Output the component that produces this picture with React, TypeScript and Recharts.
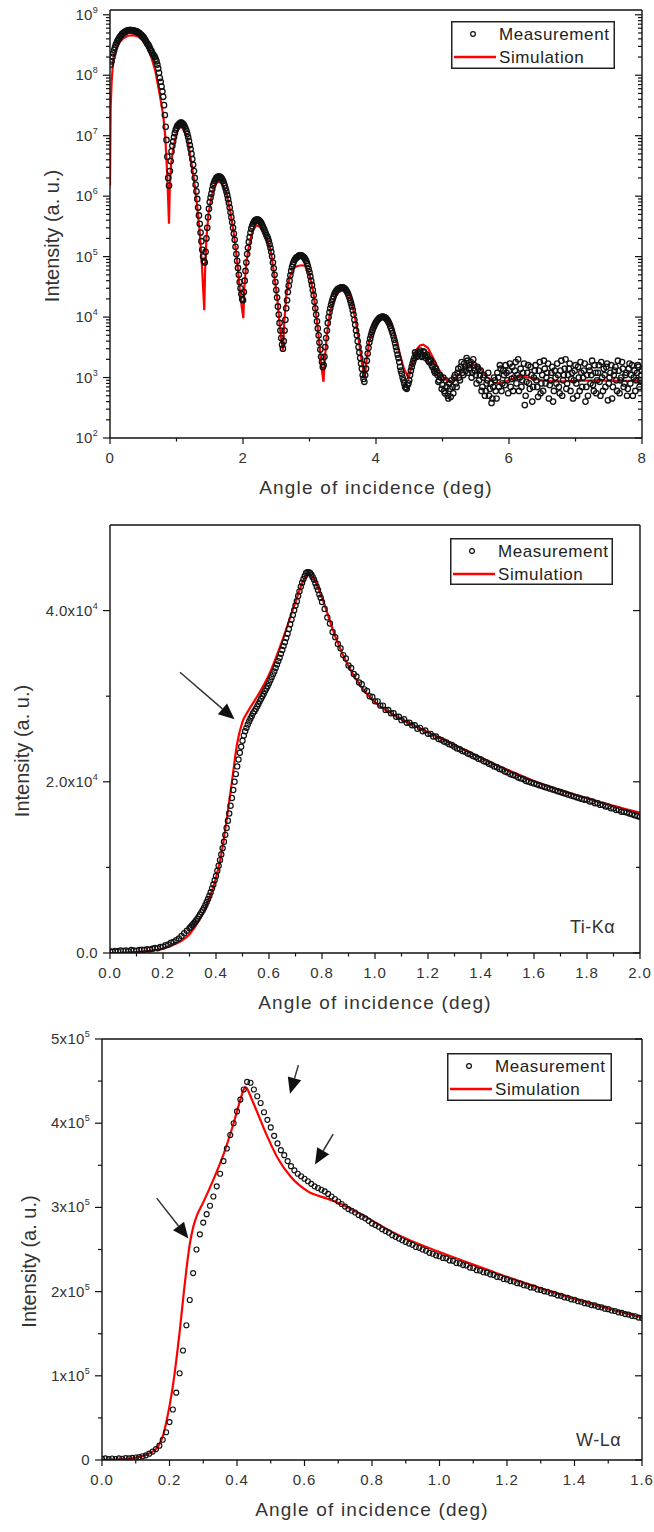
import React from 'react';
import { ComposedChart, Line, Scatter, XAxis, YAxis, Legend, ReferenceLine } from 'recharts';

type Pair = [number, number];

const FONT = '"Liberation Sans", Arial, Helvetica, sans-serif';
const INK = '#333';

// ---------- Panel 1: X-ray reflectivity (log scale) ----------
const xrrMeasured: Pair[] = [
  [0.025,1.7e8],[0.05,2.3e8],[0.075,2.9e8],[0.1,3.4e8],[0.125,3.9e8],[0.15,4.3e8],[0.175,4.7e8],[0.2,5.0e8],[0.225,5.2e8],[0.25,5.4e8],
  [0.275,5.5e8],[0.3,5.6e8],[0.325,5.6e8],[0.35,5.5e8],[0.375,5.4e8],[0.4,5.3e8],[0.425,5.1e8],[0.45,4.9e8],[0.475,4.6e8],[0.5,4.3e8],
  [0.525,3.9e8],[0.55,3.5e8],[0.575,3.2e8],[0.6,2.8e8],[0.625,2.5e8],[0.65,2.2e8],[0.675,2.0e8],[0.7,1.7e8],[0.725,1.3e8],[0.75,9e7],
  [0.775,6.5e7],[0.8,4.4e7],[0.825,2.2e7],[0.85,8.5e6],[0.875,2.0e6],[0.9,2.6e6],[0.925,5.5e6],[0.95,8e6],[0.975,1.1e7],[1.0,1.35e7],
  [1.025,1.5e7],[1.05,1.6e7],[1.075,1.65e7],[1.1,1.55e7],[1.125,1.4e7],[1.15,1.2e7],[1.175,9.5e6],[1.2,7e6],[1.225,5e6],[1.25,3.3e6],
  [1.275,2e6],[1.3,1.2e6],[1.325,6.5e5],[1.35,3.5e5],[1.375,1.8e5],[1.4,1.0e5],[1.425,8e4],[1.45,2e5],[1.475,4.5e5],[1.5,8e5],
  [1.525,1.1e6],[1.55,1.5e6],[1.575,1.8e6],[1.6,2.0e6],[1.625,2.1e6],[1.65,2.1e6],[1.675,2.0e6],[1.7,1.8e6],[1.725,1.5e6],[1.75,1.2e6],
  [1.775,9e5],[1.8,6.5e5],[1.825,4.5e5],[1.85,3e5],[1.875,1.9e5],[1.9,1.1e5],[1.925,6.5e4],[1.95,3.8e4],[1.975,2.4e4],[2.0,1.9e4],
  [2.025,4e4],[2.05,8e4],[2.075,1.4e5],[2.1,2.1e5],[2.125,2.9e5],[2.15,3.5e5],[2.175,3.9e5],[2.2,4.1e5],[2.225,4.1e5],[2.25,3.9e5],
  [2.275,3.6e5],[2.3,3.1e5],[2.325,2.7e5],[2.35,2.3e5],[2.375,2.0e5],[2.4,1.6e5],[2.425,1.2e5],[2.45,8e4],[2.475,5e4],[2.5,2.8e4],
  [2.525,1.5e4],[2.55,8e3],[2.575,4.5e3],[2.6,3e3],[2.625,6e3],[2.65,1.4e4],[2.675,2.6e4],[2.7,4e4],[2.725,5.8e4],[2.75,7.5e4],
  [2.775,8.8e4],[2.8,9.6e4],[2.825,1.0e5],[2.85,1.05e5],[2.875,1.05e5],[2.9,1.0e5],[2.925,9.5e4],[2.95,8.5e4],[2.975,7e4],[3.0,5.5e4],
  [3.025,4e4],[3.05,2.8e4],[3.075,1.8e4],[3.1,1.1e4],[3.125,6.5e3],[3.15,3.8e3],[3.175,2.2e3],[3.2,1.5e3],[3.225,2.2e3],[3.25,4.5e3],
  [3.275,8e3],[3.3,1.2e4],[3.325,1.6e4],[3.35,2e4],[3.375,2.4e4],[3.4,2.7e4],[3.425,2.9e4],[3.45,3e4],[3.475,3.1e4],[3.5,3.1e4],
  [3.525,3e4],[3.55,2.8e4],[3.575,2.5e4],[3.6,2.1e4],[3.625,1.7e4],[3.65,1.3e4],[3.675,9e3],[3.7,6e3],[3.725,4e3],[3.75,2.6e3],
  [3.775,1.7e3],[3.8,1.1e3],[3.825,8.5e2],[3.85,1.4e3],[3.875,2.5e3],[3.9,3.8e3],[3.925,5e3],[3.95,6.2e3],[3.975,7.2e3],[4.0,8.2e3],
  [4.025,9e3],[4.05,9.6e3],[4.075,1e4],[4.1,1.02e4],[4.125,1.0e4],[4.15,9.6e3],[4.175,8.8e3],[4.2,7.8e3],[4.225,6.6e3],[4.25,5.4e3],
  [4.275,4.2e3],[4.3,3.2e3],[4.325,2.4e3],[4.35,1.8e3],[4.375,1.3e3],[4.4,1.0e3],[4.425,8e2],[4.45,6.8e2],[4.475,7.5e2],[4.5,9e2],
  [4.525,1.3e3],[4.55,1.7e3],[4.575,2.1e3],[4.6,2.4e3],[4.625,2.3e3],[4.65,2.6e3],[4.675,2.5e3],[4.7,2.3e3],[4.725,2.6e3],[4.75,2.1e3],
  [4.775,2.2e3],[4.8,1.8e3],[4.825,1.9e3],[4.85,1.5e3],[4.875,1.3e3],[4.9,1.4e3],[4.925,1.1e3],[4.95,9e2],[4.975,1.0e3],[5.0,7.5e2],
  [5.025,6e2],[5.05,9e2],[5.075,5e2],[5.1,8e2],[5.125,4.8e2],[5.15,7e2],[5.175,1.0e3],[5.2,8e2],[5.225,1.2e3],[5.25,1.0e3],
  [5.275,1.5e3],[5.3,1.2e3],[5.325,1.7e3],[5.35,1.3e3],[5.375,1.9e3],[5.4,1.4e3],[5.425,1.8e3],[5.45,1.2e3],[5.475,1.6e3],[5.5,1.1e3],
  [5.525,1.5e3],[5.55,9e2],[5.575,1.3e3],[5.6,7e2],[5.625,1.1e3],[5.65,6e2],[5.675,9e2],[5.7,5e2],[5.725,8e2],[5.75,4.5e2],
  [5.775,1.0e3],[5.8,6e2],[5.825,1.2e3],[5.85,7e2],[5.875,1.4e3],[5.9,8e2],[5.925,1.1e3],[5.95,1.6e3],[5.975,9e2],[6.0,1.3e3],
  [6.025,7e2],[6.05,1.5e3],[6.075,1.0e3],[6.1,1.8e3],[6.125,1.1e3],[6.15,6e2],[6.175,1.4e3],[6.2,9e2],[6.225,1.7e3],[6.25,5e2],
  [6.275,1.2e3],[6.3,8e2],[6.325,1.5e3],[6.35,4e2],[6.375,1.0e3],[6.4,1.6e3],[6.425,7e2],[6.45,1.3e3],[6.475,5.5e2],[6.5,1.1e3],
  [6.525,1.9e3],[6.55,8e2],[6.575,1.2e3],[6.6,4.5e2],[6.625,9e2],[6.65,1.5e3],[6.675,6e2],[6.7,1.0e3],[6.725,1.7e3],[6.75,7e2],
  [6.775,1.3e3],[6.8,5e2],[6.825,1.1e3],[6.85,2.0e3],[6.875,8e2],[6.9,1.4e3],[6.925,6e2],[6.95,1.2e3],[6.975,9e2],[7.0,1.6e3],
  [7.025,5e2],[7.05,1.0e3],[7.075,1.8e3],[7.1,7e2],[7.125,1.3e3],[7.15,4e2],[7.175,1.1e3],[7.2,1.5e3],[7.225,8e2],[7.25,1.9e3],
  [7.275,6e2],[7.3,1.2e3],[7.325,9e2],[7.35,1.6e3],[7.375,5e2],[7.4,1.0e3],[7.425,1.4e3],[7.45,7e2],[7.475,1.7e3],[7.5,8e2],
  [7.525,1.2e3],[7.55,4.5e2],[7.575,1.1e3],[7.6,1.5e3],[7.625,6e2],[7.65,1.3e3],[7.675,9e2],[7.7,1.8e3],[7.725,7e2],[7.75,1.1e3],
  [7.775,5e2],[7.8,1.4e3],[7.825,8e2],[7.85,1.6e3],[7.875,1.0e3],[7.9,6e2],[7.925,1.2e3],[7.95,1.5e3],[7.975,9e2],[8.0,1.3e3],
  // intermediate scan points
  [0.0125,1.5e8],[0.0375,2.0e8],[0.0625,2.6e8],[0.0875,3.2e8],[0.1125,3.7e8],[0.1375,4.1e8],[0.1625,4.5e8],[0.1875,4.9e8],[0.2125,5.1e8],[0.2375,5.3e8],
  [0.2625,5.5e8],[0.2875,5.6e8],[0.3125,5.6e8],[0.3375,5.5e8],[0.3625,5.5e8],[0.3875,5.3e8],[0.4125,5.2e8],[0.4375,5.0e8],[0.4625,4.7e8],[0.4875,4.4e8],
  [0.5125,4.1e8],[0.5375,3.7e8],[0.5625,3.3e8],[0.5875,3.0e8],[0.6125,2.6e8],[0.6375,2.3e8],[0.6625,2.1e8],[0.6875,1.85e8],[0.7125,1.5e8],[0.7375,1.1e8],
  [0.7625,7.8e7],[0.7875,5.4e7],[0.8125,3.2e7],[0.8375,1.4e7],[0.8625,4.5e6],[0.8875,1.5e6],[0.9125,3.8e6],[0.9375,6.8e6],[0.9625,9.5e6],[0.9875,1.25e7],
  [1.0125,1.45e7],[1.0375,1.55e7],[1.0625,1.65e7],[1.0875,1.6e7],[1.1125,1.5e7],[1.1375,1.3e7],[1.1625,1.08e7],[1.1875,8.2e6],[1.2125,6e6],[1.2375,4.1e6],
  [1.2625,2.6e6],[1.2875,1.55e6],[1.3125,9e5],[1.3375,4.8e5],[1.3625,2.5e5],[1.3875,1.3e5],[1.4125,8.5e4],[1.4375,1.2e5],[1.4625,3e5],[1.4875,6.2e5],
  [1.5125,9.5e5],[1.5375,1.3e6],[1.5625,1.65e6],[1.5875,1.9e6],[1.6125,2.05e6],[1.6375,2.1e6],[1.6625,2.05e6],[1.6875,1.9e6],[1.7125,1.65e6],[1.7375,1.35e6],
  [1.7625,1.05e6],[1.7875,7.7e5],[1.8125,5.4e5],[1.8375,3.7e5],[1.8625,2.4e5],[1.8875,1.45e5],[1.9125,8.5e4],[1.9375,5e4],[1.9625,3e4],[1.9875,2e4],
  [2.0125,2.6e4],[2.0375,5.8e4],[2.0625,1.1e5],[2.0875,1.75e5],[2.1125,2.5e5],[2.1375,3.2e5],[2.1625,3.7e5],[2.1875,4e5],[2.2125,4.1e5],[2.2375,4e5],
  [2.2625,3.75e5],[2.2875,3.35e5],[2.3125,2.9e5],[2.3375,2.5e5],[2.3625,2.15e5],[2.3875,1.8e5],[2.4125,1.4e5],[2.4375,1e5],[2.4625,6.4e4],[2.4875,3.8e4],
  [2.5125,2.1e4],[2.5375,1.1e4],[2.5625,6e3],[2.5875,3.5e3],[2.6125,4e3],[2.6375,9e3],[2.6625,1.9e4],[2.6875,3.3e4],[2.7125,4.9e4],[2.7375,6.7e4],
  [2.7625,8.2e4],[2.7875,9.2e4],[2.8125,9.8e4],[2.8375,1.03e5],[2.8625,1.05e5],[2.8875,1.03e5],[2.9125,9.8e4],[2.9375,9e4],[2.9625,7.8e4],[2.9875,6.2e4],
  [3.0125,4.7e4],[3.0375,3.4e4],[3.0625,2.3e4],[3.0875,1.4e4],[3.1125,8.5e3],[3.1375,5e3],[3.1625,2.9e3],[3.1875,1.8e3],[3.2125,1.6e3],[3.2375,3.2e3],
  [3.2625,6e3],[3.2875,1e4],[3.3125,1.4e4],[3.3375,1.8e4],[3.3625,2.2e4],[3.3875,2.55e4],[3.4125,2.8e4],[3.4375,2.95e4],[3.4625,3.05e4],[3.4875,3.1e4],
  [3.5125,3.05e4],[3.5375,2.9e4],[3.5625,2.65e4],[3.5875,2.3e4],[3.6125,1.9e4],[3.6375,1.5e4],[3.6625,1.1e4],[3.6875,7.5e3],[3.7125,5e3],[3.7375,3.2e3],
  [3.7625,2.1e3],[3.7875,1.4e3],[3.8125,9.5e2],[3.8375,1.1e3],[3.8625,1.9e3],[3.8875,3.1e3],[3.9125,4.4e3],[3.9375,5.6e3],[3.9625,6.7e3],[3.9875,7.7e3],
  [4.0125,8.6e3],[4.0375,9.3e3],[4.0625,9.8e3],[4.0875,1.01e4],[4.1125,1.01e4],[4.1375,9.8e3],[4.1625,9.2e3],[4.1875,8.3e3],[4.2125,7.2e3],[4.2375,6e3],
  [4.2625,4.8e3],[4.2875,3.7e3],[4.3125,2.8e3],[4.3375,2.1e3],[4.3625,1.5e3],[4.3875,1.15e3],[4.4125,9e2],[4.4375,7e2],[4.4625,6.5e2],[4.4875,8e2],
  [4.5125,1.1e3],[4.5375,1.5e3],[4.5625,1.9e3],[4.5875,2.6e3],[4.6125,2.2e3],[4.6375,2.5e3],[4.6625,2.8e3],[4.6875,2.2e3],[4.7125,2.7e3],[4.7375,2.3e3],
  [4.7625,2.4e3],[4.7875,1.9e3],[4.8125,2.0e3],[4.8375,1.6e3],[4.8625,1.7e3],[4.8875,1.2e3],[4.9125,1.25e3],[4.9375,8.5e2],[4.9625,1.1e3],[4.9875,6.5e2],
  [5.0125,1.0e3],[5.0375,5.5e2],[5.0625,7e2],[5.0875,4.5e2],[5.1125,6.5e2],[5.1375,9e2],[5.1625,5.5e2],[5.1875,1.1e3],[5.2125,7e2],[5.2375,1.4e3],
  [5.2625,9e2],[5.2875,1.8e3],[5.3125,1.1e3],[5.3375,1.5e3],[5.3625,2.1e3],[5.3875,1.2e3],[5.4125,1.6e3],[5.4375,1.0e3],[5.4625,2.0e3],[5.4875,1.3e3],
  [5.5125,8e2],[5.5375,1.4e3],[5.5625,1.1e3],[5.5875,6e2],[5.6125,1.0e3],[5.6375,5e2],[5.6625,8e2],[5.6875,1.2e3],[5.7125,6.5e2],[5.7375,3.8e2],
  [5.7625,7e2],[5.7875,9e2],[5.8125,4.5e2],[5.8375,1.0e3],[5.8625,1.6e3],[5.8875,6e2],[5.9125,1.3e3],[5.9375,7.5e2],[5.9625,1.2e3],[5.9875,5.5e2],
  [6.0125,1.7e3],[6.0375,9.5e2],[6.0625,6e2],[6.0875,1.3e3],[6.1125,8e2],[6.1375,2.0e3],[6.1625,1.0e3],[6.1875,7e2],[6.2125,1.2e3],[6.2375,3.5e2],
  [6.2625,8.5e2],[6.2875,1.6e3],[6.3125,6.5e2],[6.3375,1.1e3],[6.3625,7e2],[6.3875,1.3e3],[6.4125,9e2],[6.4375,4.8e2],[6.4625,1.8e3],[6.4875,8e2],
  [6.5125,6e2],[6.5375,1.4e3],[6.5625,1.0e3],[6.5875,1.7e3],[6.6125,7.5e2],[6.6375,1.2e3],[6.6625,4e2],[6.6875,1.3e3],[6.7125,8e2],[6.7375,1.1e3],
  [6.7625,5.5e2],[6.7875,1.9e3],[6.8125,9e2],[6.8375,1.4e3],[6.8625,6.5e2],[6.8875,1.1e3],[6.9125,1.7e3],[6.9375,9.5e2],[6.9625,4.5e2],[6.9875,1.3e3],
  [7.0125,8e2],[7.0375,1.5e3],[7.0625,6e2],[7.0875,1.2e3],[7.1125,1.0e3],[7.1375,1.7e3],[7.1625,7e2],[7.1875,5e2],[7.2125,1.3e3],[7.2375,1.1e3],
  [7.2625,7.5e2],[7.2875,1.6e3],[7.3125,5.5e2],[7.3375,1.2e3],[7.3625,8.5e2],[7.3875,1.8e3],[7.4125,6e2],[7.4375,1.1e3],[7.4625,1.5e3],[7.4875,4.2e2],
  [7.5125,1.0e3],[7.5375,1.6e3],[7.5625,7e2],[7.5875,1.3e3],[7.6125,9e2],[7.6375,1.9e3],[7.6625,5.5e2],[7.6875,1.0e3],[7.7125,1.4e3],[7.7375,8e2],
  [7.7625,1.2e3],[7.7875,6.5e2],[7.8125,1.7e3],[7.8375,1.1e3],[7.8625,5e2],[7.8875,1.3e3],[7.9125,9e2],[7.9375,1.6e3],[7.9625,7e2],[7.9875,1.1e3],
];
const xrrSimulated: Pair[] = [
  [0,1.5e6],[0.01,3e7],[0.025,8e7],[0.05,1.9e8],[0.1,2.9e8],[0.15,3.6e8],[0.2,4.1e8],[0.27,4.5e8],[0.35,4.6e8],[0.42,4.4e8],
  [0.5,3.7e8],[0.56,2.9e8],[0.62,2.0e8],[0.68,1.2e8],[0.72,7e7],[0.76,4e7],[0.8,2.2e7],[0.83,1e7],[0.85,4e6],[0.87,1.2e6],
  [0.887,3.5e5],[0.9,1.5e6],[0.92,3.5e6],[0.95,6e6],[0.99,1e7],[1.03,1.3e7],[1.07,1.4e7],[1.11,1.3e7],[1.16,9e6],[1.21,4.5e6],
  [1.26,2e6],[1.31,7e5],[1.35,2.5e5],[1.38,8e4],[1.4,3e4],[1.418,1.3e4],[1.43,6e4],[1.45,2e5],[1.48,5e5],[1.52,9e5],
  [1.57,1.5e6],[1.63,1.8e6],[1.69,1.6e6],[1.75,1.1e6],[1.81,5.5e5],[1.86,2.5e5],[1.91,9e4],[1.95,3e4],[1.98,1.5e4],[2.005,9.6e3],
  [2.02,3e4],[2.05,8e4],[2.09,1.5e5],[2.14,2.6e5],[2.2,3.3e5],[2.26,3.1e5],[2.32,2.3e5],[2.37,1.8e5],[2.42,1.2e5],[2.47,5e4],
  [2.52,1.8e4],[2.56,6e3],[2.6,2.8e3],[2.62,8e3],[2.65,2.2e4],[2.7,4.5e4],[2.76,6.5e4],[2.82,7e4],[2.88,7.2e4],[2.94,7e4],
  [3.0,5e4],[3.06,2.5e4],[3.11,9e3],[3.15,3.5e3],[3.18,1.5e3],[3.21,8.5e2],[3.23,2e3],[3.26,5e3],[3.31,1.2e4],[3.37,2e4],
  [3.44,2.6e4],[3.51,2.8e4],[3.58,2.5e4],[3.64,1.7e4],[3.7,8e3],[3.75,3.5e3],[3.79,1.7e3],[3.83,1e3],[3.86,2e3],[3.9,4e3],
  [3.96,6.5e3],[4.03,8.8e3],[4.1,9.6e3],[4.16,9.4e3],[4.23,7.5e3],[4.3,4.5e3],[4.36,2.4e3],[4.42,1.4e3],[4.49,9.8e2],[4.54,1.6e3],
  [4.6,2.8e3],[4.66,3.4e3],[4.71,3.5e3],[4.78,3.1e3],[4.86,2.1e3],[4.94,1.4e3],[5.02,1e3],[5.08,8.8e2],[5.14,8.5e2],[5.22,1.05e3],
  [5.32,1.4e3],[5.42,1.6e3],[5.49,1.6e3],[5.58,1.35e3],[5.68,1e3],[5.78,8.2e2],[5.88,8e2],[6.0,9e2],[6.15,1.05e3],[6.3,1e3],
  [6.5,9e2],[6.7,8.6e2],[7.0,8.8e2],[7.3,9e2],[7.6,8.8e2],[8.0,8.8e2],
];
const xrrXTicks = [0, 1, 2, 3, 4, 5, 6, 7, 8];
const xrrXMajor = [0, 2, 4, 6, 8];
const xrrExponents = [2, 3, 4, 5, 6, 7, 8, 9];

// ---------- Panel 2: Ti-Kα fluorescence ----------
const tiMeasured: Pair[] = [
  [0.00,200],[0.01,150],[0.02,250],[0.03,200],[0.04,300],[0.05,250],[0.06,300],[0.07,200],[0.08,350],[0.09,300],
  [0.10,250],[0.11,350],[0.12,400],[0.13,350],[0.14,450],[0.15,400],[0.16,500],[0.17,600],[0.18,550],[0.19,700],
  [0.20,750],[0.21,900],[0.22,1000],[0.23,1200],[0.24,1300],[0.25,1500],[0.26,1700],[0.27,2000],[0.28,2300],[0.29,2600],
  [0.30,2900],[0.31,3250],[0.32,3600],[0.33,4000],[0.34,4500],[0.35,5000],[0.36,5600],[0.37,6300],[0.38,7100],[0.39,8000],
  [0.40,9000],[0.41,10200],[0.42,11500],[0.43,13000],[0.44,14600],[0.45,16300],[0.46,18100],[0.47,20000],[0.48,21800],[0.49,23400],
  [0.50,24800],[0.51,25900],[0.52,26700],[0.53,27400],[0.54,28000],[0.55,28500],[0.56,29100],[0.57,29700],[0.58,30300],[0.59,30900],
  [0.60,31500],[0.61,32200],[0.62,32900],[0.63,33700],[0.64,34500],[0.65,35400],[0.66,36300],[0.67,37300],[0.68,38400],[0.69,39500],
  [0.70,40600],[0.71,41700],[0.72,42800],[0.73,43700],[0.74,44400],[0.75,44500],[0.76,44200],[0.77,43600],[0.78,42800],[0.79,41900],
  [0.80,41000],[0.81,40200],[0.82,39200],[0.83,38500],[0.84,37500],[0.85,36900],[0.86,36100],[0.87,35600],[0.88,34800],[0.89,34400],
  [0.90,33600],[0.91,33300],[0.92,32600],[0.93,32300],[0.94,31600],[0.95,31400],[0.96,30800],[0.97,30600],[0.98,30000],[0.99,29900],
  [1.00,29400],[1.01,29400],[1.02,28900],[1.03,28900],[1.04,28400],[1.05,28400],[1.06,28000],[1.07,28000],[1.08,27600],[1.09,27600],
  [1.10,27200],[1.11,27300],[1.12,26900],[1.13,26900],[1.14,26600],[1.15,26600],[1.16,26200],[1.17,26300],[1.18,25900],[1.19,26000],
  [1.20,25600],[1.21,25600],[1.22,25300],[1.23,25300],[1.24,25000],[1.25,24900],[1.26,24700],[1.27,24600],[1.28,24400],[1.29,24300],
  [1.30,24100],[1.31,23900],[1.32,23800],[1.33,23600],[1.34,23500],[1.35,23300],[1.36,23200],[1.37,23000],[1.38,22900],[1.39,22700],
  [1.40,22600],[1.41,22400],[1.42,22300],[1.43,22100],[1.44,22000],[1.45,21800],[1.46,21700],[1.47,21500],[1.48,21400],[1.49,21200],
  [1.50,21100],[1.51,20900],[1.52,20800],[1.53,20700],[1.54,20500],[1.55,20400],[1.56,20300],[1.57,20100],[1.58,20000],[1.59,19900],
  [1.60,19800],[1.61,19700],[1.62,19600],[1.63,19500],[1.64,19400],[1.65,19300],[1.66,19200],[1.67,19100],[1.68,19000],[1.69,18900],
  [1.70,18800],[1.71,18700],[1.72,18600],[1.73,18500],[1.74,18400],[1.75,18300],[1.76,18200],[1.77,18100],[1.78,18000],[1.79,17900],
  [1.80,17900],[1.81,17700],[1.82,17700],[1.83,17500],[1.84,17500],[1.85,17300],[1.86,17300],[1.87,17100],[1.88,17100],[1.89,16900],
  [1.90,16900],[1.91,16700],[1.92,16700],[1.93,16500],[1.94,16500],[1.95,16400],[1.96,16300],[1.97,16200],[1.98,16100],[1.99,16000],
  [2.00,15900],
  // intermediate scan points on the steep part
  [0.305,3080],[0.315,3420],[0.325,3800],[0.335,4250],[0.345,4750],[0.355,5300],[0.365,5950],[0.375,6700],[0.385,7550],[0.395,8500],
  [0.405,9600],[0.415,10850],[0.425,12250],[0.435,13800],[0.445,15450],[0.455,17200],[0.465,19050],[0.475,20900],[0.485,22600],[0.495,24100],
  [0.505,25400],[0.515,26300],[0.525,27050],[0.535,27700],[0.545,28250],[0.555,28800],[0.565,29400],[0.575,30000],[0.585,30600],[0.595,31200],
  [0.605,31850],[0.615,32550],[0.625,33300],[0.635,34100],[0.645,34950],[0.655,35850],[0.665,36800],[0.675,37850],[0.685,38950],[0.695,40050],
  [0.705,41100],[0.715,42250],[0.725,43250],[0.735,44050],[0.745,44500],[0.755,44400],[0.765,43900],[0.775,43200],[0.785,42400],[0.795,41500],
];
const tiSimulated: Pair[] = [
  [0,0],[0.05,30],[0.1,100],[0.15,250],[0.2,500],[0.25,1100],[0.3,2200],[0.34,4000],[0.37,6000],[0.4,8800],
  [0.42,11500],[0.44,15500],[0.46,20000],[0.48,24500],[0.5,27000],[0.52,28200],[0.55,29700],[0.6,32500],[0.65,36500],[0.7,41000],
  [0.73,43500],[0.75,44200],[0.77,43700],[0.8,41500],[0.85,37000],[0.9,33500],[0.95,31000],[1.0,29300],[1.05,28200],[1.1,27300],
  [1.2,25800],[1.3,24300],[1.4,22800],[1.5,21400],[1.6,20100],[1.7,19000],[1.8,18100],[1.9,17200],[2.0,16400],
];
const tiXTicks = [0,0.1,0.2,0.3,0.4,0.5,0.6,0.7,0.8,0.9,1.0,1.1,1.2,1.3,1.4,1.5,1.6,1.7,1.8,1.9,2.0];
const tiXMajor = [0,0.2,0.4,0.6,0.8,1.0,1.2,1.4,1.6,1.8,2.0];
const tiYTicks = [0, 10000, 20000, 30000, 40000];
const tiYLabels: [number, string, string][] = [[0, '0.0', ''], [20000, '2.0x10', '4'], [40000, '4.0x10', '4']];

// ---------- Panel 3: W-Lα fluorescence ----------
const wMeasured: Pair[] = [
  [0.00,1500],[0.01,2000],[0.02,1000],[0.03,1800],[0.04,1200],[0.05,2000],[0.06,1500],[0.07,2200],[0.08,2000],[0.09,2500],
  [0.10,3000],[0.11,3500],[0.12,4500],[0.13,5500],[0.14,7500],[0.15,10000],[0.16,13000],[0.17,17000],[0.18,24000],[0.19,33000],
  [0.20,45000],[0.21,60000],[0.22,80000],[0.23,103000],[0.24,130000],[0.25,160000],[0.26,190000],[0.27,222000],[0.28,250000],[0.29,268000],
  [0.30,282000],[0.31,292000],[0.32,302000],[0.33,313000],[0.34,325000],[0.35,340000],[0.36,355000],[0.37,370000],[0.38,386000],[0.39,400000],
  [0.40,414000],[0.41,428000],[0.42,440000],[0.43,449000],[0.44,448000],[0.45,440000],[0.46,432000],[0.47,424000],[0.48,413000],[0.49,404000],
  [0.50,395000],[0.51,385000],[0.52,376000],[0.53,368000],[0.54,362000],[0.55,355000],[0.56,349000],[0.57,344000],[0.58,340000],[0.59,337000],
  [0.60,334000],[0.61,331000],[0.62,328000],[0.63,325000],[0.64,323000],[0.65,321000],[0.66,319000],[0.67,316000],[0.68,313000],[0.69,310000],
  [0.70,307000],[0.71,304000],[0.72,301000],[0.73,298000],[0.74,296000],[0.75,294000],[0.76,291000],[0.77,289000],[0.78,287000],[0.79,284000],
  [0.80,281000],[0.81,279000],[0.82,277000],[0.83,274000],[0.84,272000],[0.85,270000],[0.86,267000],[0.87,265000],[0.88,263000],[0.89,261000],
  [0.90,259000],[0.91,257000],[0.92,255500],[0.93,253000],[0.94,252000],[0.95,250000],[0.96,248500],[0.97,246000],[0.98,245000],[0.99,243000],
  [1.00,242000],[1.01,240000],[1.02,239500],[1.03,237000],[1.04,236500],[1.05,234000],[1.06,233500],[1.07,231500],[1.08,231000],[1.09,228500],
  [1.10,228000],[1.11,225500],[1.12,225000],[1.13,223000],[1.14,222500],[1.15,220500],[1.16,219800],[1.17,217500],[1.18,217000],[1.19,215000],
  [1.20,214500],[1.21,212500],[1.22,212000],[1.23,210000],[1.24,209500],[1.25,207500],[1.26,207000],[1.27,205000],[1.28,204800],[1.29,202500],
  [1.30,202000],[1.31,200300],[1.32,199800],[1.33,197900],[1.34,197300],[1.35,195500],[1.36,195000],[1.37,193200],[1.38,192600],[1.39,190800],
  [1.40,190300],[1.41,188500],[1.42,188000],[1.43,186300],[1.44,185700],[1.45,184000],[1.46,183600],[1.47,181900],[1.48,181300],[1.49,179700],
  [1.50,179100],[1.51,177500],[1.52,177000],[1.53,175400],[1.54,174800],[1.55,173300],[1.56,172700],[1.57,171200],[1.58,170700],[1.59,169100],
  [1.60,168500],
];
const wSimulated: Pair[] = [
  [0,0],[0.03,200],[0.06,800],[0.09,1800],[0.11,3500],[0.13,6000],[0.15,10000],[0.16,13000],[0.17,19000],[0.18,28000],
  [0.19,44000],[0.2,64000],[0.21,88000],[0.22,118000],[0.23,152000],[0.24,190000],[0.25,226000],[0.26,256000],[0.27,276000],[0.28,289000],
  [0.3,306000],[0.33,333000],[0.36,363000],[0.39,400000],[0.41,428000],[0.42,440000],[0.425,443000],[0.43,441000],[0.44,432000],[0.46,413000],
  [0.49,384000],[0.52,359000],[0.56,336000],[0.61,319000],[0.67,310000],[0.73,300000],[0.78,289000],[0.85,273000],[0.9,263000],[1.0,247000],
  [1.1,232000],[1.2,217500],[1.3,204000],[1.4,191500],[1.5,180000],[1.6,169500],
];
const wXTicks = [0,0.1,0.2,0.3,0.4,0.5,0.6,0.7,0.8,0.9,1.0,1.1,1.2,1.3,1.4,1.5,1.6];
const wXMajor = [0,0.2,0.4,0.6,0.8,1.0,1.2,1.4,1.6];
const wYTicks = [0,50000,100000,150000,200000,250000,300000,350000,400000,450000,500000];
const wYLabels: [number, string, string][] = [[0,'0',''],[100000,'1x10','5'],[200000,'2x10','5'],[300000,'3x10','5'],[400000,'4x10','5'],[500000,'5x10','5']];

// annotation arrows [from, to] in data coordinates
const tiArrows: [Pair, Pair][] = [[[0.264, 32800], [0.47, 27300]]];
const wArrows: [Pair, Pair][] = [
  [[0.162, 311000], [0.256, 263000]],
  [[0.582, 469000], [0.557, 435000]],
  [[0.685, 387000], [0.631, 351000]],
];

// ---------- helpers ----------
const near = (a: number, b: number) => Math.abs(a - b) <= 1e-6 * Math.max(1, Math.abs(a), Math.abs(b));
const toPts = (a: Pair[]) => a.map(([x, y]) => ({ x, y })).sort((p, q) => p.x - q.x);

type Side = 'left' | 'right' | 'top' | 'bottom';
function makeTick(side: Side, majors: number[], majorLen: number, minorLen: number,
  label?: (v: number) => [string, string] | null) {
  return (props: any) => {
    const { x, y, payload } = props;
    const v = payload.value as number;
    const isMajor = majors.some((m) => near(m, v));
    const len = isMajor ? majorLen : minorLen;
    let ln: React.ReactNode = null;
    if (side === 'bottom') ln = <line x1={x} x2={x} y1={y} y2={y + len} />;
    if (side === 'top') ln = <line x1={x} x2={x} y1={y} y2={y + len} />;
    if (side === 'left') ln = <line x1={x - len} x2={x} y1={y} y2={y} />;
    if (side === 'right') ln = <line x1={x - len} x2={x} y1={y} y2={y} />;
    let txt: React.ReactNode = null;
    const lab = isMajor && label ? label(v) : null;
    if (lab) {
      if (side === 'bottom') {
        txt = (
          <text x={x} y={y + 25} textAnchor="middle" fontSize={15} letterSpacing={0.8} fill={INK} fontFamily={FONT} stroke="none">
            {lab[0]}
          </text>
        );
      } else if (side === 'left') {
        txt = (
          <text x={x - 12} y={y + 5} textAnchor="end" fontSize={15} letterSpacing={0.3} fill={INK} fontFamily={FONT} stroke="none">
            {lab[0]}
            {lab[1] ? <tspan dy={-7} fontSize={9}>{lab[1]}</tspan> : null}
          </text>
        );
      }
    }
    return (
      <g stroke="#111" strokeWidth={1.2}>
        {ln}
        {txt}
      </g>
    );
  };
}

const makeCircle = (r: number, sw: number) => (p: any) => (
  <circle cx={p.cx} cy={p.cy} r={r} fill="none" stroke="#111" strokeWidth={sw} />
);

const arrowShape = (p: any) => {
  const { x1, y1, x2, y2 } = p;
  const dx = x2 - x1;
  const dy = y2 - y1;
  const L = Math.hypot(dx, dy) || 1;
  const ux = dx / L;
  const uy = dy / L;
  const head = 16;
  const half = 7;
  const bx = x2 - ux * head;
  const by = y2 - uy * head;
  return (
    <g>
      <line x1={x1} y1={y1} x2={bx} y2={by} stroke="#333" strokeWidth={1.5} />
      <polygon points={`${x2},${y2} ${bx - uy * half},${by + ux * half} ${bx + uy * half},${by - ux * half}`} fill="#111" />
    </g>
  );
};

const legendContent = (w: number, h: number) => () => (
  <svg width={w} height={h} style={{ display: 'block' }}>
    <rect x={0.75} y={0.75} width={w - 1.5} height={h - 1.5} fill="#fff" stroke="#222" strokeWidth={1.5} />
    <circle cx={22} cy={13} r={2.4} fill="none" stroke="#111" strokeWidth={1.2} />
    <text x={48} y={19} fontSize={17} letterSpacing={0.6} fill="#222" fontFamily={FONT}>Measurement</text>
    <line x1={3} x2={45} y1={36} y2={36} stroke="#ff0000" strokeWidth={2.5} />
    <text x={48} y={42} fontSize={17} letterSpacing={0.6} fill="#222" fontFamily={FONT}>Simulation</text>
  </svg>
);

type PanelProps = {
  top: number; height: number; plotTop: number; plotBottom: number; plotLeft: number; plotRight: number;
  xDomain: [number, number]; yDomain: [number, number]; logY?: boolean;
  xTicks: number[]; xMajor: number[]; xFmt: (v: number) => string;
  yTicks: number[]; yMajor: number[]; yFmt: (v: number) => [string, string] | null;
  meas: Pair[]; sim: Pair[]; curve: 'linear' | 'monotone';
  marker: { r: number; sw: number };
  legend: { x: number; y: number; w: number; h: number };
  arrows: [Pair, Pair][];
  yTitleX: number;
  tag?: { text: string; x: number; y: number };
};

function Panel(p: PanelProps) {
  const W = 654;
  const axisStyle = { stroke: '#111', strokeWidth: 1.4 };
  const xTitle = (props: any) => {
    const vb = props.viewBox;
    return (
      <text x={vb.x + vb.width / 2} y={vb.y + 49} textAnchor="middle" dominantBaseline="central" fontSize={19} letterSpacing={1.2} fill={INK} fontFamily={FONT}>
        Angle of incidence (deg)
      </text>
    );
  };
  const yTitle = (props: any) => {
    const vb = props.viewBox;
    const cy = vb.y + vb.height / 2 + 12;
    const cx = p.yTitleX;
    return (
      <text x={cx} y={cy} transform={`rotate(-90 ${cx} ${cy})`} textAnchor="middle" dominantBaseline="central" fontSize={20} fill={INK} fontFamily={FONT}>
        Intensity (a. u.)
      </text>
    );
  };
  return (
    <div style={{ position: 'absolute', left: 0, top: p.top, width: W, height: p.height }}>
      <ComposedChart width={W} height={p.height} margin={{ top: p.plotTop - 1, right: W - p.plotRight - 1, bottom: 0, left: 0 }}>
        <XAxis xAxisId="b" dataKey="x" type="number" domain={p.xDomain} ticks={p.xTicks} interval={0} allowDataOverflow
          height={p.height - p.plotBottom} tickSize={0} tickMargin={0} tickLine={false} axisLine={axisStyle}
          tick={makeTick('bottom', p.xMajor, 6, 3.5, (v) => [p.xFmt(v), ''])} label={{ content: xTitle }} />
        <XAxis xAxisId="t" orientation="top" type="number" domain={p.xDomain} ticks={p.xTicks} interval={0} allowDataOverflow
          height={1} tickSize={0} tickMargin={0} tickLine={false} axisLine={axisStyle}
          tick={makeTick('top', p.xMajor, 7, 4)} />
        <YAxis yAxisId="l" dataKey="y" type="number" scale={p.logY ? 'log' : 'linear'} domain={p.yDomain} ticks={p.yTicks} interval={0} allowDataOverflow
          width={p.plotLeft} tickSize={0} tickMargin={0} tickLine={false} axisLine={axisStyle}
          tick={makeTick('left', p.yMajor, 7, 4, p.yFmt)} label={{ content: yTitle }} />
        <YAxis yAxisId="r" orientation="right" type="number" scale={p.logY ? 'log' : 'linear'} domain={p.yDomain} ticks={p.yTicks} interval={0} allowDataOverflow
          width={1} tickSize={0} tickMargin={0} tickLine={false} axisLine={axisStyle}
          tick={makeTick('right', p.yMajor, 7, 4)} />
        <Scatter xAxisId="b" yAxisId="l" name="Measurement" data={toPts(p.meas)} dataKey="y" shape={makeCircle(p.marker.r, p.marker.sw)} isAnimationActive={false} />
        <Line xAxisId="b" yAxisId="l" name="Simulation" data={toPts(p.sim)} dataKey="y" type={p.curve} stroke="#ff0000" strokeWidth={2.2}
          dot={false} activeDot={false} isAnimationActive={false} />
        {p.arrows.map((a, i) => (
          <ReferenceLine key={i} xAxisId="b" yAxisId="l" segment={[{ x: a[0][0], y: a[0][1] }, { x: a[1][0], y: a[1][1] }]}
            shape={arrowShape} ifOverflow="visible" />
        ))}
        <Legend layout="vertical" align="center" verticalAlign="middle"
          wrapperStyle={{ left: p.legend.x, top: p.legend.y, width: p.legend.w, height: p.legend.h, margin: 0, padding: 0 }}
          content={legendContent(p.legend.w, p.legend.h)} />
      </ComposedChart>
      {p.tag ? (
        <div style={{ position: 'absolute', left: p.tag.x, top: p.tag.y, fontFamily: FONT, fontSize: 18, color: INK, letterSpacing: 0.5, whiteSpace: 'nowrap' }}>
          {p.tag.text}
        </div>
      ) : null}
    </div>
  );
}

export default function App() {
  const xrrYMajor = xrrExponents.map((e) => Math.pow(10, e));
  const xrrYTicks = [
    ...xrrYMajor,
    ...xrrYMajor.slice(0, -1).flatMap((d) => [2, 3, 4, 5, 6, 7, 8, 9].map((k) => k * d)),
  ].sort((a, b) => a - b);
  const xrrYFmt = (v: number): [string, string] | null => {
    const e = Math.round(Math.log10(v));
    return ['10', String(e)];
  };
  const labFrom = (arr: [number, string, string][]) => (v: number): [string, string] | null => {
    const f = arr.find((r) => near(r[0], v));
    return f ? [f[1], f[2]] : null;
  };
  return (
    <div style={{ position: 'absolute', left: 0, top: 0, width: 654, height: 1532, background: '#fff', overflow: 'hidden' }}>
      <Panel
        top={0} height={500} plotTop={10} plotBottom={438} plotLeft={110} plotRight={642}
        xDomain={[0, 8]} yDomain={[100, 1.2e9]} logY
        xTicks={xrrXTicks} xMajor={xrrXMajor} xFmt={(v) => String(v)}
        yTicks={xrrYTicks} yMajor={xrrYMajor} yFmt={xrrYFmt}
        meas={xrrMeasured} sim={xrrSimulated} curve="linear" marker={{ r: 2.7, sw: 1.3 }}
        legend={{ x: 451, y: 21, w: 164, h: 48 }}
        arrows={[]} yTitleX={52}
      />
      <Panel
        top={500} height={515} plotTop={25} plotBottom={453} plotLeft={110} plotRight={640}
        xDomain={[0, 2]} yDomain={[0, 50000]}
        xTicks={tiXTicks} xMajor={tiXMajor} xFmt={(v) => v.toFixed(1)}
        yTicks={tiYTicks} yMajor={[0, 20000, 40000]} yFmt={labFrom(tiYLabels)}
        meas={tiMeasured} sim={tiSimulated} curve="monotone" marker={{ r: 2.6, sw: 1.2 }}
        legend={{ x: 450, y: 38, w: 163, h: 47 }}
        arrows={tiArrows} yTitleX={22}
        tag={{ text: 'Ti-Kα', x: 570, y: 417 }}
      />
      <Panel
        top={1015} height={517} plotTop={24} plotBottom={445} plotLeft={102} plotRight={642}
        xDomain={[0, 1.6]} yDomain={[0, 500000]}
        xTicks={wXTicks} xMajor={wXMajor} xFmt={(v) => v.toFixed(1)}
        yTicks={wYTicks} yMajor={[0, 100000, 200000, 300000, 400000, 500000]} yFmt={labFrom(wYLabels)}
        meas={wMeasured} sim={wSimulated} curve="monotone" marker={{ r: 2.5, sw: 1.15 }}
        legend={{ x: 447, y: 38, w: 165, h: 48 }}
        arrows={wArrows} yTitleX={29}
        tag={{ text: 'W-Lα', x: 576, y: 415 }}
      />
    </div>
  );
}
